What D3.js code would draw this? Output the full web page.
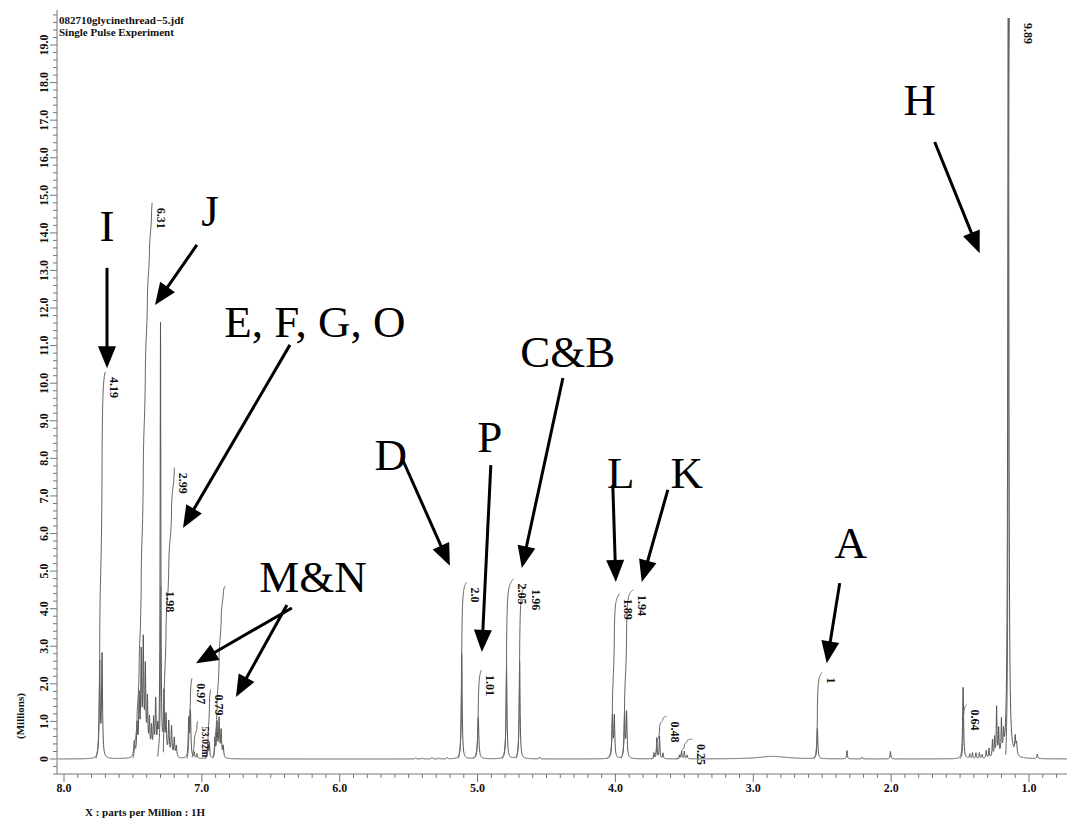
<!DOCTYPE html>
<html><head><meta charset="utf-8">
<script src="https://cdn.jsdelivr.net/npm/d3@7"></script>
<style>
body{margin:0;background:#fff;}
svg{display:block;font-family:"Liberation Serif","Times New Roman",serif;}
</style></head>
<body>
<svg id="c" width="1067" height="821"></svg>
<script>
// ---------- data ----------
const titleLines = ["082710glycinethread\u22125.jdf", "Single Pulse Experiment"];
const xAxisTitle = "X : parts per Million : 1H";
const yAxisTitle = "(Millions)";
const xTickLabels = ["8.0","7.0","6.0","5.0","4.0","3.0","2.0","1.0"];
const xTickValues = [8,7,6,5,4,3,2,1];
const yTickValues = d3.range(0, 20, 1);
const yTickLabels = yTickValues.map(v => v === 0 ? "0" : v.toFixed(1));

// spectrum lines: chemical shift (ppm), height (millions), half width (ppm)
const peakPpm = [7.741,7.724,
  7.49,7.47,7.455,7.44,7.425,7.41,7.395,7.38,7.365,7.35,7.335,7.32,
  7.30,
  7.275,7.26,7.24,7.22,7.20,7.185,
  7.095,7.083,
  7.055,7.035,
  6.955,6.945,
  6.905,6.89,6.875,6.86,6.845,
  5.45,5.40,5.33,5.28,5.22,
  5.115,4.995,4.79,4.695,4.55,
  4.022,4.008,3.934,3.919,
  3.72,3.70,3.68,3.655,
  3.535,3.52,3.50,3.48,
  2.86,
  2.535,2.32,2.21,2.005,
  1.478,1.43,1.41,1.385,1.36,1.34,1.31,1.29,1.265,1.25,1.235,1.22,1.20,1.185,
  1.15,1.10,1.09,0.94];
const peakHeight = [2.5,2.7,
  0.4,0.8,1.5,2.6,2.9,2.2,1.4,0.9,0.7,0.9,1.4,0.6,
  11.5,
  1.6,1.0,0.9,0.8,0.5,0.3,
  1.0,1.2,
  0.15,0.12,
  0.35,0.4,
  0.5,0.9,1.0,0.7,0.3,
  0.03,0.03,0.04,0.03,0.04,
  2.8,1.1,2.5,2.6,0.05,
  1.1,1.1,1.2,1.2,
  0.15,0.55,0.6,0.15,
  0.1,0.2,0.2,0.1,
  0.07,
  0.8,0.22,0.05,0.2,
  1.9,0.12,0.15,0.15,0.15,0.1,0.2,0.25,0.45,0.5,1.3,0.7,0.9,0.5,
  25,0.45,0.3,0.12];
const peakWidth = [0.004,0.004,
  0.005,0.004,0.004,0.004,0.004,0.004,0.004,0.004,0.004,0.004,0.004,0.004,
  0.003,
  0.004,0.004,0.004,0.004,0.004,0.004,
  0.004,0.004,
  0.003,0.003,
  0.003,0.003,
  0.004,0.004,0.004,0.004,0.004,
  0.004,0.004,0.004,0.004,0.004,
  0.004,0.005,0.004,0.004,0.004,
  0.004,0.004,0.004,0.004,
  0.003,0.003,0.003,0.003,
  0.003,0.003,0.003,0.003,
  0.12,
  0.004,0.003,0.003,0.003,
  0.004,0.003,0.003,0.003,0.003,0.003,0.003,0.003,0.003,0.003,0.003,0.003,0.003,0.003,
  0.004,0.004,0.004,0.004];

// integrals: label, region start / end (ppm), drawn height (millions)
const integralLabels = ["4.19","6.31","1.98","2.99","0.97","53.02m","0.79","","2.0","1.01","2.05","1.96","1.89","1.94","0.48","0.25","1","0.64","9.89"];
const integralStart  = [7.77, 7.50, 7.32, 7.28, 7.11, 7.07, 6.975,6.92, 5.14, 5.03, 4.82, 4.72, 4.06, 3.96, 3.74, 3.56, 2.56, 1.50, 1.17];
const integralEnd    = [7.70, 7.36, 7.295,7.20, 7.07, 7.03, 6.935,6.83, 5.08, 4.97, 4.74, 4.64, 3.97, 3.87, 3.63, 3.44, 2.50, 1.45, 1.07];
const integralTop    = [10.3, 14.8, 4.6,  7.75, 2.15, 1.0,  1.85, 4.6,  4.7,  2.37, 4.8,  4.65, 4.4,  4.5,  1.13, 0.53, 2.3,  1.45, 23.3];

// annotation letters (ppm, millions) and arrows (from -> tip)
const annoText = ["I","J","E, F, G, O","M&N","D","P","C&B","L","K","A","H"];
const annoPpm  = [7.688,6.941,6.180,6.194,5.629,4.911,4.345,3.961,3.482,2.293,1.793];
const annoVal  = [13.78,14.18,11.23,4.44,7.69,8.17,10.43,7.21,7.21,5.35,17.14];
const arrowFromPpm = [7.688,7.036,6.361,6.347,6.383,5.549,4.904,4.381,4.019,3.620,2.373,1.684];
const arrowFromVal = [13.07,13.68,11.02,4.02,4.10,8.01,7.82,10.14,7.29,7.16,4.68,16.42];
const arrowToPpm   = [7.688,7.340,7.137,7.043,6.753,5.201,4.969,4.679,3.997,3.809,2.467,1.358];
const arrowToVal   = [10.40,12.08,6.15,2.55,1.65,5.14,2.85,5.08,4.71,4.71,2.55,13.46];

// ---------- drawing ----------
const svg = d3.select("#c");
const xs = d3.scaleLinear().domain([8,1]).range([64,1029]);
const ys = d3.scaleLinear().domain([0,19]).range([759,45]);
const xLeft = 57, xRight = 1067, yBottom = 774, yTop = 10;
const xAx = d3.scaleLinear().domain([xs.invert(xLeft), xs.invert(xRight)]).range([xLeft, xRight]);
const yAx = d3.scaleLinear().domain([ys.invert(yBottom), ys.invert(yTop)]).range([yBottom, yTop]);

svg.append("defs").append("clipPath").attr("id","plot")
  .append("rect").attr("x", xLeft+1).attr("y", 18).attr("width", xRight-xLeft).attr("height", yBottom-18);

function intensity(p){
  let s = 0;
  for (let i=0;i<peakPpm.length;i++){
    const d = (p - peakPpm[i]) / peakWidth[i];
    s += peakHeight[i] / (1 + d*d);
  }
  return s;
}
const grid = d3.range(xAx.domain()[0], xAx.domain()[1], -0.0015).concat(peakPpm).sort((a,b)=>b-a);
const spec = grid.map(p => [p, intensity(p)]);

const line = d3.line().x(d => xs(d[0])).y(d => ys(d[1]));

const g = svg.append("g").attr("clip-path","url(#plot)");
g.append("path").datum(spec).attr("d", line)
  .attr("fill","none").attr("stroke","#555").attr("stroke-width",1);

// integrals
integralLabels.forEach((lab, k) => {
  const a = integralStart[k], b = integralEnd[k];
  const pts = spec.filter(d => d[0] <= a && d[0] >= b);
  let cum = 0; const arr = [];
  pts.forEach(d => { cum += d[1]; arr.push([d[0], cum]); });
  const tot = cum || 1;
  const path = arr.map(d => [d[0], d[1]/tot*integralTop[k]]);
  g.append("path").datum(path).attr("d", line)
    .attr("fill","none").attr("stroke","#666").attr("stroke-width",1);
  if (lab){
    const ly = Math.max(ys(integralTop[k]), 18) + 5;
    svg.append("text").attr("transform", `translate(${xs(b)+2},${ly}) rotate(90)`)
      .attr("font-size", lab.length > 4 ? 10 : 12).attr("font-weight","bold").attr("fill","#111")
      .attr("dy","-0.2em").text(lab);
  }
});

// y axis
const ya = svg.append("g").attr("stroke","#777").attr("fill","none");
ya.append("line").attr("x1",xLeft).attr("x2",xLeft).attr("y1",yBottom).attr("y2",yTop);
d3.range(-0.4, 19.95, 0.2).forEach(v => {
  const major = Math.abs(v - Math.round(v)) < 1e-6;
  ya.append("line").attr("x1",xLeft).attr("x2",xLeft-(major?7:4)).attr("y1",yAx(v)).attr("y2",yAx(v));
});
yTickValues.forEach((v,i) => {
  svg.append("text").attr("transform",`translate(${48},${ys(v)}) rotate(-90)`)
    .attr("text-anchor","middle").attr("font-size",12).attr("font-weight","bold").attr("fill","#111")
    .text(yTickLabels[i]);
});
svg.append("text").attr("transform","translate(24,716) rotate(-90)")
  .attr("text-anchor","middle").attr("font-size",11).attr("font-weight","bold").attr("fill","#111").text(yAxisTitle);

// x axis
const xa = svg.append("g").attr("stroke","#777").attr("fill","none");
xa.append("line").attr("x1",xLeft).attr("x2",xRight).attr("y1",yBottom).attr("y2",yBottom);
d3.range(8.0, 0.7, -0.1).forEach(p => {
  const major = Math.abs(p - Math.round(p)) < 1e-6;
  xa.append("line").attr("x1",xs(p)).attr("x2",xs(p)).attr("y1",yBottom).attr("y2",yBottom+(major?8:4));
});
xTickValues.forEach((p,i) => {
  svg.append("text").attr("x",xs(p)).attr("y",792).attr("text-anchor","middle")
    .attr("font-size",12).attr("font-weight","bold").attr("fill","#111").text(xTickLabels[i]);
});
svg.append("text").attr("x",85).attr("y",816).attr("font-size",11).attr("font-weight","bold").attr("fill","#111").text(xAxisTitle);

// header
titleLines.forEach((t,i) => {
  svg.append("text").attr("x",59).attr("y",24+i*11.5).attr("font-size",11).attr("font-weight","bold").attr("fill","#111").text(t);
});

// annotations
annoText.forEach((t,i) => {
  svg.append("text").attr("x",xs(annoPpm[i])).attr("y",ys(annoVal[i])).attr("text-anchor","middle")
    .attr("font-size",45).attr("fill","#000").text(t);
});
arrowFromPpm.forEach((p,i) => {
  const x1 = xs(p), y1 = ys(arrowFromVal[i]), x2 = xs(arrowToPpm[i]), y2 = ys(arrowToVal[i]);
  const dx = x2-x1, dy = y2-y1, L = Math.hypot(dx,dy), ux = dx/L, uy = dy/L;
  const hl = 22, hw = 9;
  const bx = x2 - ux*hl, by = y2 - uy*hl;
  svg.append("line").attr("x1",x1).attr("y1",y1).attr("x2",bx+ux*2).attr("y2",by+uy*2)
    .attr("stroke","#000").attr("stroke-width",3);
  svg.append("path").attr("d",`M${x2},${y2}L${bx - uy*hw},${by + ux*hw}L${bx + uy*hw},${by - ux*hw}Z`).attr("fill","#000");
});
</script>
</body></html>
